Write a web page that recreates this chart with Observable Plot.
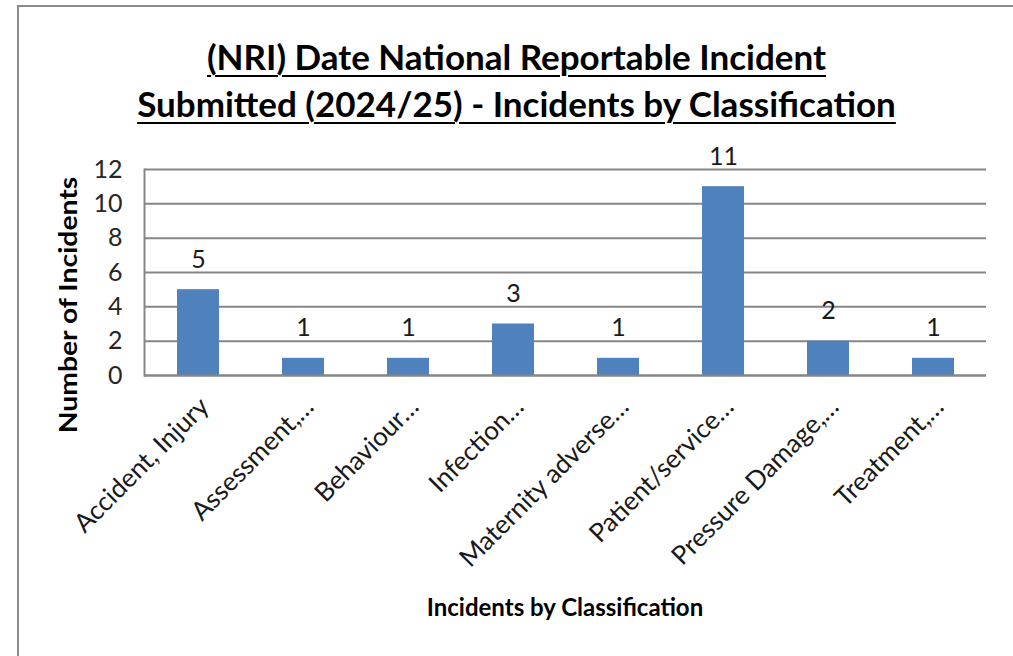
<!DOCTYPE html>
<html>
<head>
<meta charset="utf-8">
<script src="https://cdn.jsdelivr.net/npm/d3@7"></script>
<script src="https://cdn.jsdelivr.net/npm/@observablehq/plot@0.6"></script>
<style>
  html, body { margin: 0; padding: 0; background: #fff; width: 1013px; height: 656px; overflow: hidden; }
  #wrap { position: relative; width: 1013px; height: 656px; font-family: Lato, "Open Sans", sans-serif; }
  #border { position: absolute; left: 17px; top: 5px; width: 1010px; height: 700px; border-top: 2px solid #8c8c8c; border-left: 2px solid #8c8c8c; }
  #title { position: absolute; left: 0; width: 1033px; top: 33px; text-align: center; font-weight: bold; font-size: 35px; line-height: 47px; color: #000; text-decoration: underline; text-decoration-thickness: 2px; text-underline-offset: 5px; }
  #xtitle { position: absolute; left: 144px; width: 842px; top: 593px; text-align: center; font-weight: bold; font-size: 24px; line-height: 28px; color: #000; }
  #ytitle { position: absolute; left: 68px; top: 305px; transform: translate(-50%, -50%) rotate(-90deg) scaleX(1.18); white-space: nowrap; font-weight: bold; font-size: 24px; line-height: 28px; color: #000; }
  #chart { position: absolute; left: 0; top: 0; }
</style>
</head>
<body>
<div id="wrap">
  <div id="border"></div>
  <div id="chart"></div>
  <div id="title">(NRI) Date National Reportable Incident<br>Submitted (2024/25) - Incidents by Classification</div>
  <div id="ytitle">Number of Incidents</div>
  <div id="xtitle">Incidents by Classification</div>
</div>
<script>
const categories = ["Accident, Injury", "Assessment,…", "Behaviour…", "Infection…", "Maternity adverse…", "Patient/service…", "Pressure Damage,…", "Treatment,…"];
const counts = [5, 1, 1, 3, 1, 11, 2, 1];
const yTicks = [0, 2, 4, 6, 8, 10, 12];

const data = categories.map((c, i) => ({category: c, count: counts[i]}));

const chart = Plot.plot({
  width: 1013,
  height: 656,
  marginTop: 169,
  marginBottom: 281,
  marginLeft: 144,
  marginRight: 27,
  style: {fontFamily: "Lato, 'Open Sans', sans-serif", fontSize: "25px", background: "transparent", overflow: "visible"},
  x: {domain: categories, paddingInner: 0.6, paddingOuter: 0.3, label: null},
  y: {domain: [0, 12], label: null},
  marks: [
    Plot.ruleY(yTicks, {stroke: "#868686", strokeWidth: 2, strokeOpacity: 1}),
    Plot.frame({anchor: "left", stroke: "#868686", strokeWidth: 2, strokeOpacity: 1}),
    Plot.barY(data, {x: "category", y: "count", fill: "#4F81BD"}),
    Plot.ruleY([0], {stroke: "#868686", strokeWidth: 2, strokeOpacity: 1}),
    Plot.text(data, {x: "category", y: "count", text: d => String(d.count), lineAnchor: "bottom", dy: -22, fill: "#1a1a1a", fontSize: 25}),
    Plot.axisY({ticks: yTicks, tickSize: 0, tickPadding: 22, fill: "#262626", fontSize: 25, label: null}),
    Plot.axisX({tickSize: 0, tickRotate: -45, tickPadding: 27, dx: 6, fill: "#1a1a1a", fontSize: 26, label: null})
  ]
});
document.getElementById("chart").appendChild(chart);
</script>
</body>
</html>
